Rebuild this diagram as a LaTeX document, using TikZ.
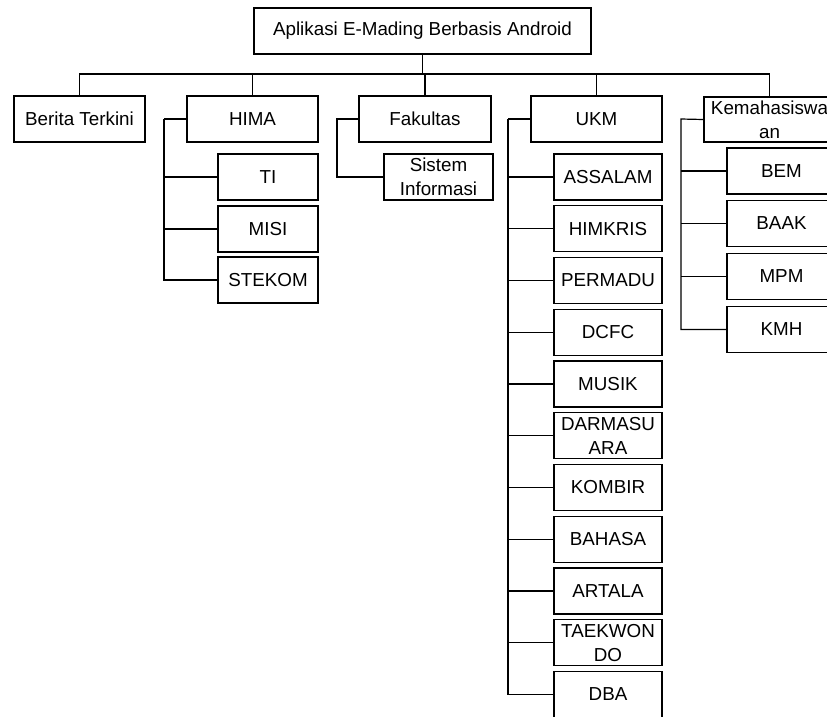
\documentclass[tikz,border=0pt]{standalone}
\usepackage{fontspec}
\setmainfont{Liberation Sans}
\begin{document}
\begin{tikzpicture}[x=1pt,y=-1pt,
  every node/.style={font=\fontsize{18.8}{24}\selectfont},
  box/.style={draw,line width=1.2pt,rectangle,inner sep=0pt,minimum height=46pt,align=center},
  topbox/.style={box,minimum width=131pt},
  subbox/.style={box,minimum width=100pt},
  widebox/.style={box,minimum width=108pt},
  link/.style={draw,line width=1.2pt},
  busline/.style={draw,line width=2pt}]
\useasboundingbox (0,0) rectangle (827,716);
\clip (0,0) rectangle (827,716);
\fill[white] (0,0) rectangle (827,716);

% root and first level
\node[box,minimum width=337pt] (root) at (422.5,31) {Aplikasi E-Mading Berbasis Android};
\node[topbox] (berita) at (79.5,119) {Berita Terkini};
\node[topbox] (hima) at (252.5,119) {HIMA};
\node[topbox,minimum width=132pt] (fak) at (425,119) {Fakultas};
\node[topbox] (ukm) at (596.5,119) {UKM};
\node[topbox,minimum height=45pt] (kema) at (769.5,119.5) {Kemahasiswa\\an};

\coordinate (bus) at (0,74);
\draw[link] (root.south) -- (root.south |- bus);
\draw[link] (berita.north) -- (berita.north |- bus) -| (kema.north);
\foreach \n in {hima,fak,ukm} \draw[link] (\n.north) -- (\n.north |- bus);

% HIMA
\node[subbox] (ti) at (268,177) {TI};
\node[subbox] (misi) at (268,229) {MISI};
\node[subbox] (stekom) at (268,280) {STEKOM};
\coordinate (hb) at (164,119);
\draw[link] (hima.west) -- (hb);
\draw[busline] (hb) -- (hb |- ti.west);
\draw[link] (hb |- ti.west) |- (stekom.west);
\foreach \n in {ti,misi} \draw[link] (\n.west) -- (\n.west -| hb);

% Fakultas
\node[box,minimum width=109pt] (si) at (438.5,177) {Sistem\\Informasi};
\coordinate (fb) at (337,119);
\draw[link] (fak.west) -- (fb) |- (si.west);

% UKM
\foreach \t [count=\i from 0] in {ASSALAM,HIMKRIS,PERMADU,DCFC,MUSIK,{DARMASU\\ARA},KOMBIR,BAHASA,ARTALA,{TAEKWON\\DO},DBA}
  \node[widebox] (u\i) at (608,177+51.75*\i) {\t};
\coordinate (ub) at (508,119);
\draw[link] (ukm.west) -- (ub);
\draw[busline] (ub) -- (ub |- u10.west);
\draw[link] (ub |- u10.west) -- (u10.west);
\foreach \i in {0,...,9} \draw[link] (u\i.west) -- (u\i.west -| ub);

% Kemahasiswaan
\node[box,minimum width=109pt] (bem) at (781.5,171) {BEM};
\node[box,minimum width=109pt] (baak) at (781.5,223.5) {BAAK};
\node[box,minimum width=109pt] (mpm) at (781.5,276.5) {MPM};
\node[box,minimum width=109pt] (kmh) at (781.5,329.5) {KMH};
\coordinate (kb) at (681,119);
\draw[link] (kema.west) -- (kb) |- (kmh.west);
\foreach \n in {bem,baak,mpm} \draw[link] (\n.west) -- (\n.west -| kb);
\end{tikzpicture}
\end{document}
